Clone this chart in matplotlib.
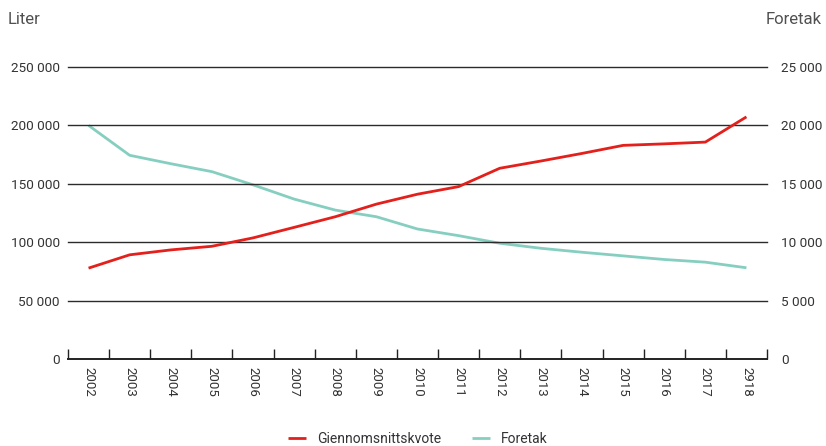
import numpy as np
import matplotlib
matplotlib.use("Agg")
import matplotlib.pyplot as plt
from matplotlib.ticker import FuncFormatter, FixedLocator

plt.rcParams['font.family'] = ['Roboto', 'DejaVu Sans']

# data
aar = ['2002', '2003', '2004', '2005', '2006', '2007', '2008', '2009', '2010',
       '2011', '2012', '2013', '2014', '2015', '2016', '2017', '2918']
kvote = [77800, 89200, 93400, 96500, 103700, 112700, 121800, 132600, 141100,
         147600, 163300, 169500, 176000, 182900, 184200, 185700, 207300]
foretak = [20000, 17440, 16720, 16040, 14910, 13690, 12750, 12180, 11130,
           10560, 9910, 9480, 9140, 8830, 8520, 8290, 7810]

venstre_ticks = [0, 50000, 100000, 150000, 200000, 250000]
hoyre_ticks = [0, 5000, 10000, 15000, 20000, 25000]

rod = '#e3201b'
turkis = '#86cfc0'
tekst = '#333333'


def mellomrom(v, pos=None):
    return '{:,.0f}'.format(v).replace(',', ' ')


fig = plt.figure(figsize=(8.26, 4.46), dpi=100)
ax = fig.add_axes([68 / 826, 1 - 359 / 446, (767 - 68) / 826, (359 - 67) / 446])
ax2 = ax.twinx()

x = np.arange(len(aar))

ax.set_xlim(-0.5, len(aar) - 0.5)
ax.set_ylim(0, 250000)
ax2.set_ylim(0, 25000)

# grid lines
for v in venstre_ticks[1:]:
    ax.axhline(v, color='#2b2b2b', lw=1.0, zorder=1, clip_on=False)

l2, = ax2.plot(x, foretak, color=turkis, lw=2.0, solid_capstyle='butt', zorder=3)
l1, = ax.plot(x, kvote, color=rod, lw=2.0, solid_capstyle='butt', zorder=4)

ax.set_zorder(ax2.get_zorder() + 1)
ax.patch.set_visible(False)

for a in (ax, ax2):
    for s in ['top', 'left', 'right']:
        a.spines[s].set_visible(False)
ax2.spines['bottom'].set_visible(False)
ax.spines['bottom'].set_color('#222222')
ax.spines['bottom'].set_linewidth(1.4)

ax.yaxis.set_major_locator(FixedLocator(venstre_ticks))
ax.yaxis.set_major_formatter(FuncFormatter(mellomrom))
ax.tick_params(axis='y', length=0, pad=6, labelsize=9.7, labelcolor=tekst)
ax2.yaxis.set_major_locator(FixedLocator(hoyre_ticks))
ax2.yaxis.set_major_formatter(FuncFormatter(mellomrom))
ax2.tick_params(axis='y', length=0, pad=10, labelsize=9.7, labelcolor=tekst)
ax2.set_xticks([])

# year labels in the middle, tick marks at category edges
ax.set_xticks(x)
ax.set_xticklabels(aar, rotation=270, fontsize=9.5, color=tekst)
ax.tick_params(axis='x', which='major', length=0, pad=6)
ax.set_xticks(np.arange(len(aar) + 1) - 0.5, minor=True)
ax.tick_params(axis='x', which='minor', direction='in', length=7, width=1, color='#222222')

fig.text(8 / 826, 1 - 20 / 446, 'Liter', fontsize=12,
         color='#505050', va='center', ha='left')
fig.text(822 / 826, 1 - 20 / 446, 'Foretak', fontsize=12,
         color='#505050', va='center', ha='right')

fig.legend([l1, l2], ['Giennomsnittskvote', 'Foretak'], loc='center',
           bbox_to_anchor=(418 / 826, 1 - 439 / 446), ncol=2, frameon=False,
           fontsize=10, handlelength=1.3, columnspacing=2.2, labelcolor=tekst)

fig.savefig('out.png', dpi=100)
